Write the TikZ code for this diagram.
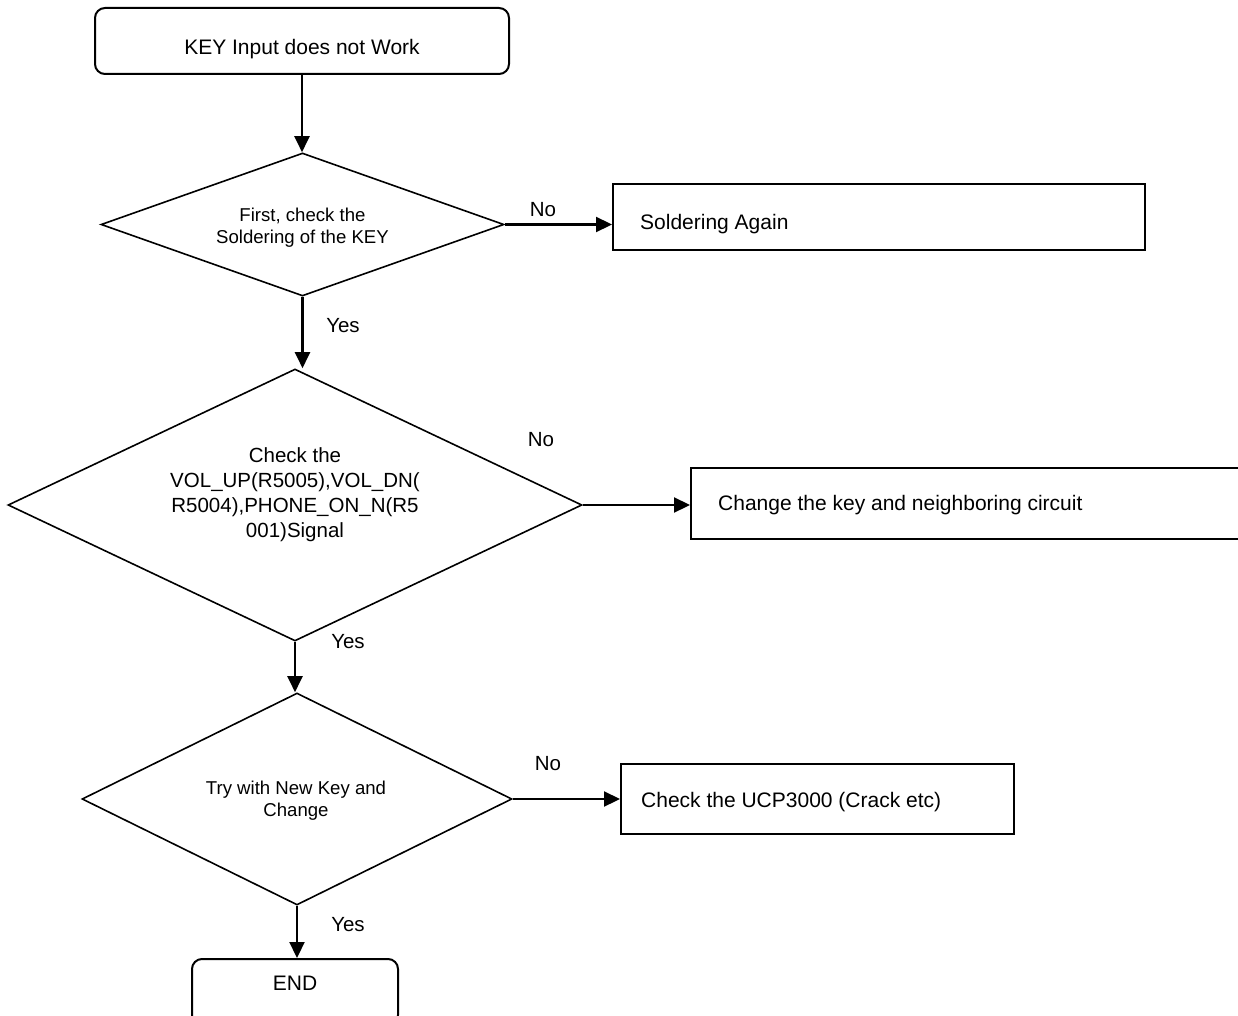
\documentclass[tikz,border=0pt]{standalone}
\usepackage{fontspec}
\setmainfont{Liberation Sans}
\usetikzlibrary{arrows.meta,shapes.geometric}
\begin{document}
\begin{tikzpicture}[x=1pt,y=-1pt,
  box/.style={draw, line width=2pt, rectangle, inner sep=0pt},
  rbox/.style={draw, line width=2pt, rounded corners=10pt, rectangle, inner sep=0pt},
  dec/.style={draw, diamond, line width=1.6pt, inner sep=0pt},
  arr/.style={line width=2.2pt, -{Triangle[length=16pt,width=15pt]}},
  lab/.style={inner sep=0pt, font=\fontsize{20.5}{25}\selectfont},
  big/.style={inner sep=0pt, font=\fontsize{21}{25}\selectfont},
  small/.style={inner sep=0pt, align=center, font=\fontsize{18.6}{22}\selectfont},
  mid/.style={inner sep=0pt, align=center, font=\fontsize{20.5}{25}\selectfont},
]
\clip (0,0) rectangle (1238,1016);

% boxes
\node[rbox, minimum width=414pt, minimum height=66pt] (start) at (302,41) {};
\node[big, anchor=base] (starttext) at (302,54.5) {KEY Input does not Work};

\node[box, minimum width=532pt, minimum height=66pt] (sold) at (879,217) {};
\node[big, anchor=base west] (soldtext) at (640,229.5) {Soldering Again};

\node[box, minimum width=559pt, minimum height=71pt] (chg) at (970.5,503.5) {};
\node[big, anchor=base west] (chgtext) at (718,510.6) {Change the key and neighboring circuit};

\node[box, minimum width=393pt, minimum height=70pt] (ucp) at (817.5,799) {};
\node[big, anchor=base west] (ucptext) at (641,807.6) {Check the UCP3000 (Crack etc)};

\node[rbox, minimum width=206pt, minimum height=66pt] (end) at (295,992) {};
\node[big, anchor=base] (endtext) at (295,990.5) {END};

% decisions
\node[dec, minimum width=403pt, minimum height=143pt] (d1) at (302.5,224.5) {};
\node[small] (d1t) at (302.5,227.5) {First, check the\\Soldering of the KEY};

\node[dec, minimum width=574pt, minimum height=272pt] (d2) at (295,505) {};
\node[mid] (d2t) at (295,494.5) {Check the\\VOL\_UP(R5005),VOL\_DN(\\R5004),PHONE\_ON\_N(R5\\001)Signal};

\node[dec, minimum width=430pt, minimum height=212pt] (d3) at (297,799) {};
\node[small] (d3t) at (296,801) {Try with New Key and\\Change};

% connectors
\draw[arr] (start.south) -- (start.south |- d1.north);
\draw[arr] (d1.south) -- (d1.south |- d2.north);
\draw[arr] (d2.south) -- (d2.south |- d3.north);
\draw[arr] (d3.south) -- (d3.south |- end.north);
\draw[arr] (d1.east) -- (d1.east -| sold.west);
\draw[arr] (d2.east) -- (d2.east -| chg.west);
\draw[arr] (d3.east) -- (d3.east -| ucp.west);

% labels
\node[lab, anchor=base] (no1) at (543,217) {No};
\node[lab, anchor=base] (no2) at (541,446.5) {No};
\node[lab, anchor=base] (no3) at (548,770.5) {No};
\node[lab, anchor=base] (yes1) at (343,332.5) {Yes};
\node[lab, anchor=base] (yes2) at (348,648.5) {Yes};
\node[lab, anchor=base] (yes3) at (348,931) {Yes};
\end{tikzpicture}
\end{document}
